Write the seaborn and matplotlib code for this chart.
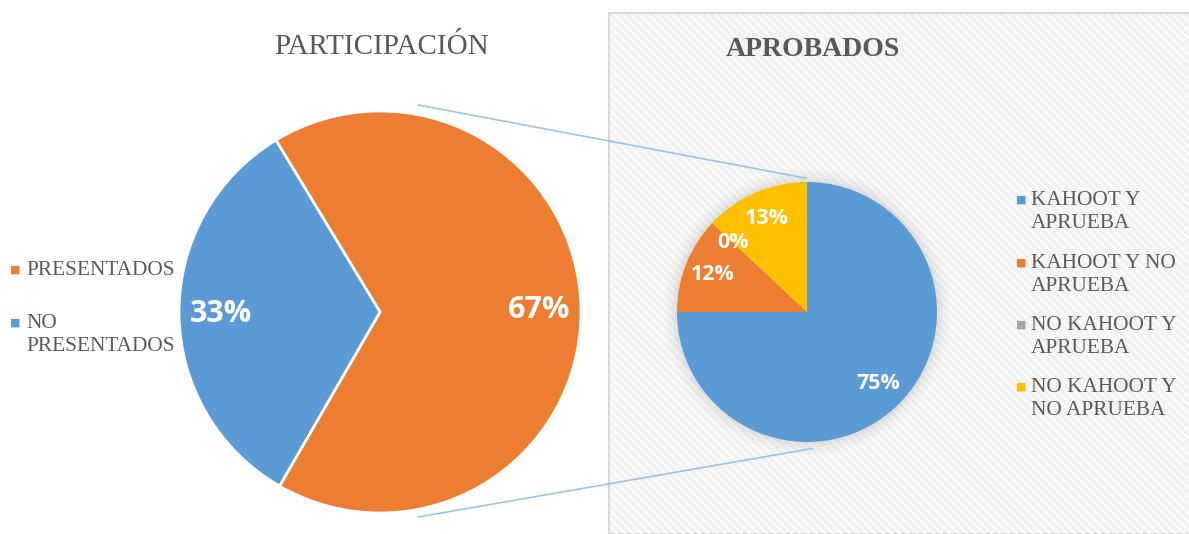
import matplotlib
matplotlib.use("Agg")
import matplotlib.pyplot as plt
from matplotlib.patches import Rectangle, Circle, ConnectionPatch
import seaborn as sns

# ---- data ----
part_labels = ["PRESENTADOS", "NO\nPRESENTADOS"]
part_values = [67, 33]
part_colors = ["#ED7D31", "#5B9BD5"]

apro_labels = ["KAHOOT Y\nAPRUEBA", "KAHOOT Y NO\nAPRUEBA", "NO KAHOOT Y\nAPRUEBA", "NO KAHOOT Y\nNO APRUEBA"]
apro_values = [75, 12, 0, 13]
apro_colors = ["#5B9BD5", "#ED7D31", "#A5A5A5", "#FFC000"]

title_left = "PARTICIPACIÓN"
title_right = "APROBADOS"

sns.set_theme(style="white")
plt.rcParams["font.family"] = ["Liberation Serif", "DejaVu Serif"]

W, H = 1189, 534
fig = plt.figure(figsize=(W / 100, H / 100), dpi=100)
fig.patch.set_facecolor("white")

def fx(px):
    return px / W

def fy(py):
    return 1 - py / H

# right panel background
fig.patches.append(Rectangle((fx(609), 0), fx(W - 609) + 0.01, fy(13), transform=fig.transFigure,
                             facecolor="#f2f2f2", edgecolor="#d9d9d9", linewidth=1.5, zorder=-2))
fig.patches.append(Rectangle((fx(610), 0), fx(W - 610) + 0.01, fy(14), transform=fig.transFigure,
                             facecolor="none", edgecolor="white", linewidth=0, hatch="\\\\\\\\",
                             zorder=-1))

# left pie
cxL, cyL, rL = 380, 312, 201
axL = fig.add_axes([fx(cxL - rL), fy(cyL + rL), fx(2 * rL), 2 * rL / H])
wedgesL, _, autoL = axL.pie(part_values, colors=part_colors, startangle=-120, counterclock=True,
                             autopct="%1.0f%%", pctdistance=0.79,
                             wedgeprops=dict(edgecolor="white", linewidth=2))
for t in autoL:
    t.set(color="white", fontsize=22, fontweight="bold", family="Open Sans")
axL.set_xlim(-1, 1)
axL.set_ylim(-1, 1)
axL.set_aspect("equal")
axL.axis("off")

# right pie
cxR, cyR, rR = 807, 312, 130
axR = fig.add_axes([fx(cxR - rR), fy(cyR + rR), fx(2 * rR), 2 * rR / H])
for rad, a in [(1.10, 0.03), (1.07, 0.04), (1.04, 0.05), (1.02, 0.06)]:
    axR.add_patch(Circle((0, 0), rad, facecolor="#7f7f7f", alpha=a, edgecolor="none",
                         clip_on=False, zorder=0))
wedgesR, _, autoR = axR.pie(apro_values, colors=apro_colors, startangle=90, counterclock=False,
                             autopct="%1.0f%%", pctdistance=0.78,
                             wedgeprops=dict(edgecolor="none", linewidth=0))
for w in wedgesR:
    w.set_zorder(2)
for t in autoR:
    t.set(color="white", fontsize=15.5, fontweight="bold", family="Open Sans", zorder=3)
axR.set_xlim(-1, 1)
axR.set_ylim(-1, 1)
axR.set_aspect("equal")
axR.axis("off")

# connecting lines
for pa, pb in [((0.19, 1.03), (-0.01, 1.03)), ((0.19, -1.02), (0.04, -1.05))]:
    con = ConnectionPatch(xyA=pa, coordsA=axL.transData, xyB=pb, coordsB=axR.transData,
                          color="#9DC3E6", linewidth=1.2, zorder=5)
    fig.add_artist(con)

# titles
fig.text(fx(382), fy(47), title_left, ha="center", va="center", fontsize=21, color="#595959")
fig.text(fx(813), fy(49), title_right, ha="center", va="center", fontsize=20,
         fontweight="bold", color="#595959")

# left legend
leg_y_left = [270, 323]
for lab, col, y in zip(part_labels, part_colors, leg_y_left):
    fig.text(fx(15), fy(y), "■", ha="center", va="center", fontsize=8, color=col,
             family="DejaVu Sans")
    fig.text(fx(26), fy(y - 9), lab, ha="left", va="top", fontsize=15.3, color="#595959",
             linespacing=1.3)

# right legend
leg_y_right = [200, 263, 325, 387]
for lab, col, y in zip(apro_labels, apro_colors, leg_y_right):
    fig.text(fx(1021), fy(y), "■", ha="center", va="center", fontsize=8, color=col,
             family="DejaVu Sans")
    fig.text(fx(1031), fy(y - 9), lab, ha="left", va="top", fontsize=15.3, color="#595959",
             linespacing=1.3)

fig.savefig("out.png", dpi=100)
